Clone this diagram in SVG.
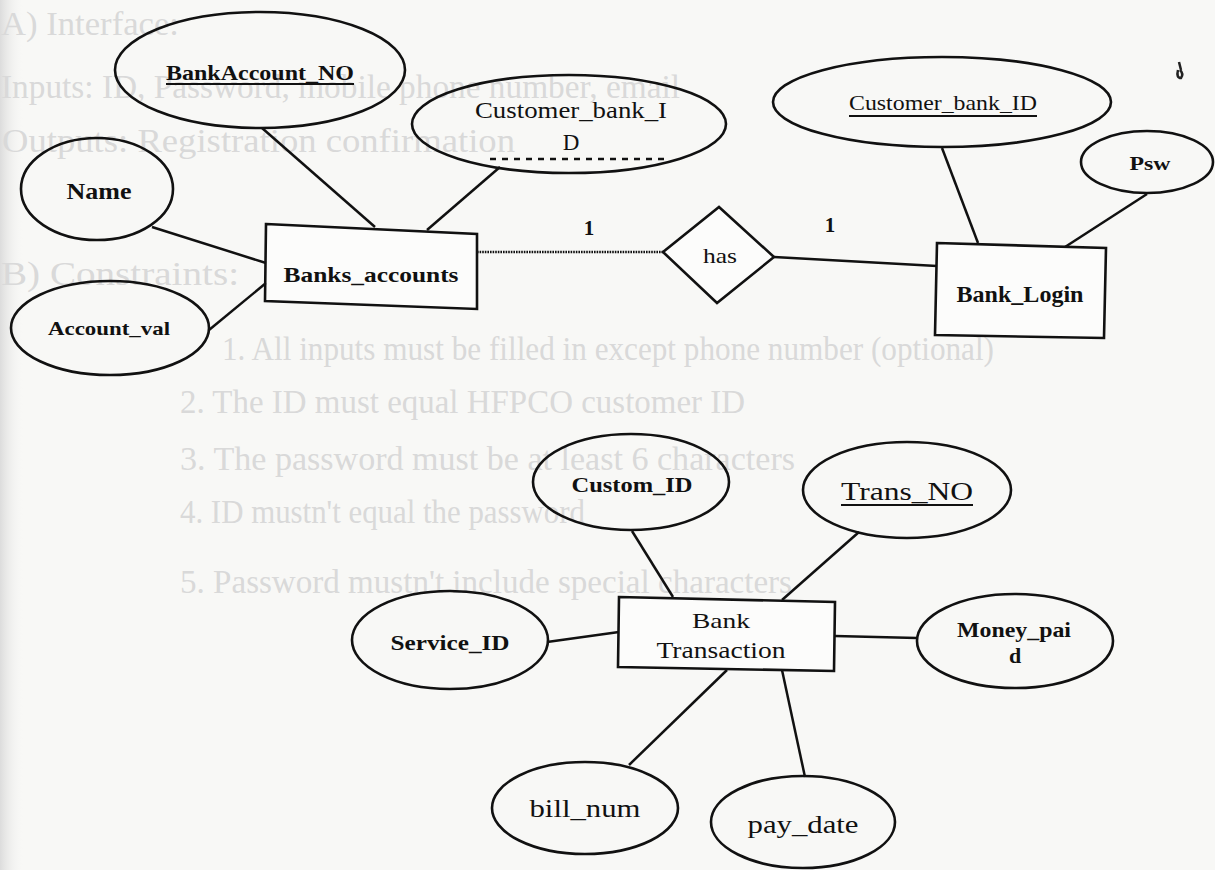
<svg xmlns="http://www.w3.org/2000/svg" width="1215" height="870" viewBox="0 0 1215 870">
  <defs>
    <linearGradient id="edge" x1="0" y1="0" x2="1" y2="0">
      <stop offset="0" stop-color="#dcdcdc"/>
      <stop offset="1" stop-color="#f8f8f6" stop-opacity="0"/>
    </linearGradient>
  </defs>
  <style>
    .shape { fill: none; stroke: #111; stroke-width: 2.6; }
    .box { fill: #fff; fill-opacity: 0.6; stroke: #111; stroke-width: 2.6; }
    .edge { stroke: #111; stroke-width: 2.5; fill: none; }
    .lbl { font-family: "Liberation Serif", "Times New Roman", serif; fill: #111; text-anchor: middle; }
    .b { font-weight: bold; }
    .ul { stroke: #111; stroke-width: 1.8; }
    .ghost { font-family: "Liberation Serif", "Times New Roman", serif; fill: #d9d9d9; font-size: 34px; }
  </style>

  <!-- paper -->
  <rect width="1215" height="870" fill="#f8f8f6"/>
  <rect width="24" height="870" fill="url(#edge)"/>

  <!-- faint print showing through the sheet -->
  <g id="reverse-print">
    <text class="ghost" x="1" y="35" textLength="178" lengthAdjust="spacingAndGlyphs">A) Interface:</text>
    <text class="ghost" x="1" y="98" textLength="679" lengthAdjust="spacingAndGlyphs">Inputs: ID, Password, mobile phone number, email</text>
    <text class="ghost" x="2" y="152" textLength="513" lengthAdjust="spacingAndGlyphs">Outputs: Registration confirmation</text>
    <text class="ghost" x="1" y="285" textLength="238" lengthAdjust="spacingAndGlyphs">B) Constraints:</text>
    <text class="ghost" x="222" y="360" textLength="772" lengthAdjust="spacingAndGlyphs">1. All inputs must be filled in except phone number (optional)</text>
    <text class="ghost" x="180" y="413" textLength="565" lengthAdjust="spacingAndGlyphs">2. The ID must equal HFPCO customer ID</text>
    <text class="ghost" x="180" y="470" textLength="615" lengthAdjust="spacingAndGlyphs">3. The password must be at least 6 characters</text>
    <text class="ghost" x="180" y="523" textLength="405" lengthAdjust="spacingAndGlyphs">4. ID mustn't equal the password</text>
    <text class="ghost" x="180" y="593" textLength="612" lengthAdjust="spacingAndGlyphs">5. Password mustn't include special characters</text>
  </g>

  <!-- connectors -->
  <g id="connectors">
    <line class="edge" x1="262" y1="128" x2="375" y2="227"/>
    <line class="edge" x1="500" y1="167" x2="427" y2="230"/>
    <line class="edge" x1="152" y1="227" x2="266" y2="263"/>
    <line class="edge" x1="209" y1="330" x2="266" y2="283"/>
    <line class="edge" x1="477" y1="252" x2="663" y2="252" stroke-width="3.2" stroke-dasharray="1.6 1"/>
    <line class="edge" x1="774" y1="257" x2="937" y2="266"/>
    <line class="edge" x1="942" y1="148" x2="978" y2="243"/>
    <line class="edge" x1="1147" y1="194" x2="1065" y2="247"/>
    <line class="edge" x1="632" y1="531" x2="673" y2="597"/>
    <line class="edge" x1="859" y1="532" x2="782" y2="600"/>
    <line class="edge" x1="547" y1="642" x2="619" y2="632"/>
    <line class="edge" x1="835" y1="636" x2="917" y2="638"/>
    <line class="edge" x1="727" y1="670" x2="629" y2="765"/>
    <line class="edge" x1="782" y1="670" x2="805" y2="777"/>
    <text class="lbl b" x="589" y="235" font-size="21">1</text>
    <text class="lbl b" x="830" y="232" font-size="21">1</text>
  </g>

  <!-- Banks_accounts entity and its attributes -->
  <g id="banks-accounts">
    <polygon class="box" points="266,224 477,234 477,309 265,301"/>
    <text class="lbl b" x="371" y="282" font-size="22" textLength="175" lengthAdjust="spacingAndGlyphs">Banks_accounts</text>
  </g>
  <g id="attr-bankaccount-no">
    <ellipse class="shape" cx="260" cy="70" rx="145" ry="58"/>
    <text class="lbl b" x="260" y="80" font-size="21" textLength="188" lengthAdjust="spacingAndGlyphs">BankAccount_NO</text>
    <line class="ul" x1="166" y1="84" x2="354" y2="84"/>
  </g>
  <g id="attr-customer-bank-id-fk">
    <ellipse class="shape" cx="569" cy="124" rx="157" ry="49"/>
    <text class="lbl" x="571" y="118" font-size="23" textLength="192" lengthAdjust="spacingAndGlyphs">Customer_bank_I</text>
    <text class="lbl" x="571" y="150" font-size="23">D</text>
    <line x1="490" y1="159" x2="668" y2="159" stroke="#111" stroke-width="2.6" stroke-dasharray="6 6"/>
  </g>
  <g id="attr-name">
    <ellipse class="shape" cx="97" cy="189" rx="76" ry="51"/>
    <text class="lbl b" x="99" y="199" font-size="23" textLength="65" lengthAdjust="spacingAndGlyphs">Name</text>
  </g>
  <g id="attr-account-val">
    <ellipse class="shape" cx="110" cy="328" rx="99" ry="47"/>
    <text class="lbl b" x="109" y="335" font-size="19" textLength="122" lengthAdjust="spacingAndGlyphs">Account_val</text>
  </g>

  <!-- has relationship -->
  <g id="rel-has">
    <polygon class="box" points="663,252 719,207 774,257 717,303"/>
    <text class="lbl" x="720" y="263" font-size="22" textLength="34" lengthAdjust="spacingAndGlyphs">has</text>
  </g>

  <!-- Bank_Login entity and its attributes -->
  <g id="bank-login">
    <polygon class="box" points="937,243 1106,248 1104,338 935,335"/>
    <text class="lbl b" x="1020" y="302" font-size="24" textLength="127" lengthAdjust="spacingAndGlyphs">Bank_Login</text>
  </g>
  <g id="attr-customer-bank-id">
    <ellipse class="shape" cx="942" cy="102" rx="169" ry="45"/>
    <text class="lbl" x="943" y="110" font-size="22" textLength="188" lengthAdjust="spacingAndGlyphs">Customer_bank_ID</text>
    <line class="ul" x1="849" y1="116" x2="1037" y2="116"/>
  </g>
  <g id="attr-psw">
    <ellipse class="shape" cx="1147" cy="162" rx="66" ry="31"/>
    <text class="lbl b" x="1150" y="170" font-size="19" textLength="41" lengthAdjust="spacingAndGlyphs">Psw</text>
  </g>

  <!-- Bank Transaction entity and its attributes -->
  <g id="bank-transaction">
    <polygon class="box" points="619,597 835,602 834,671 618,667"/>
    <text class="lbl" x="721" y="628" font-size="22" textLength="58" lengthAdjust="spacingAndGlyphs">Bank</text>
    <text class="lbl" x="721" y="658" font-size="23" textLength="129" lengthAdjust="spacingAndGlyphs">Transaction</text>
  </g>
  <g id="attr-custom-id">
    <ellipse class="shape" cx="631" cy="482" rx="98" ry="48"/>
    <text class="lbl b" x="632" y="492" font-size="22" textLength="121" lengthAdjust="spacingAndGlyphs">Custom_ID</text>
  </g>
  <g id="attr-trans-no">
    <ellipse class="shape" cx="907" cy="490" rx="104" ry="48"/>
    <text class="lbl" x="907" y="500" font-size="26" textLength="132" lengthAdjust="spacingAndGlyphs">Trans_NO</text>
    <line class="ul" x1="841" y1="505" x2="973" y2="505"/>
  </g>
  <g id="attr-service-id">
    <ellipse class="shape" cx="450" cy="640" rx="98" ry="49"/>
    <text class="lbl b" x="450" y="650" font-size="21" textLength="119" lengthAdjust="spacingAndGlyphs">Service_ID</text>
  </g>
  <g id="attr-money-paid">
    <ellipse class="shape" cx="1015" cy="641" rx="98" ry="47"/>
    <text class="lbl b" x="1014" y="637" font-size="22" textLength="114" lengthAdjust="spacingAndGlyphs">Money_pai</text>
    <text class="lbl b" x="1015" y="663" font-size="22">d</text>
  </g>
  <g id="attr-bill-num">
    <ellipse class="shape" cx="585" cy="808" rx="93" ry="46"/>
    <text class="lbl" x="585" y="817" font-size="25" textLength="111" lengthAdjust="spacingAndGlyphs">bill_num</text>
  </g>
  <g id="attr-pay-date">
    <ellipse class="shape" cx="803" cy="822" rx="92" ry="46"/>
    <text class="lbl" x="803" y="833" font-size="25" textLength="111" lengthAdjust="spacingAndGlyphs">pay_date</text>
  </g>

  <!-- stray ink mark on the page -->
  <path d="M1179,62 L1181,70 M1178,70 Q1176,78 1181,78 Q1184,74 1180,70" fill="none" stroke="#222" stroke-width="2.5"/>
</svg>
